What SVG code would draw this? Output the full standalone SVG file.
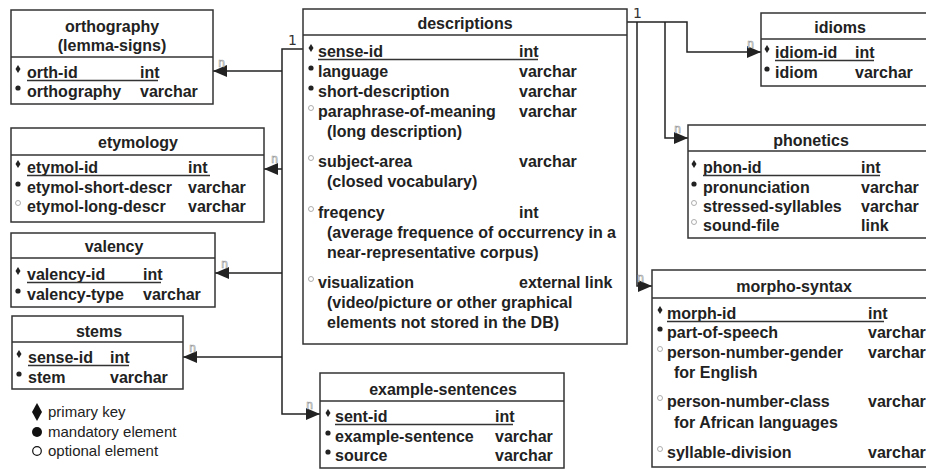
<svg xmlns="http://www.w3.org/2000/svg" width="926" height="469" viewBox="0 0 926 469">
<defs>
<style>
.box{fill:#fff;stroke:#333;stroke-width:1.5}
.div{stroke:#333;stroke-width:1.5}
.t{font-family:"Liberation Sans",Arial,sans-serif;font-size:16px;font-weight:bold;fill:#222}
.ttl{text-anchor:middle}
.ul{stroke:#333;stroke-width:1.5}
.conn{fill:none;stroke:#222;stroke-width:1.5}
.n{font-family:"DejaVu Sans Mono",monospace;font-size:12px;fill:#fff;stroke:#999;stroke-width:0.6}
.one{font-family:"DejaVu Sans",sans-serif;font-size:14px;fill:#333}
.lg{font-family:"Liberation Sans",Arial,sans-serif;font-size:15px;fill:#222}
.pk{fill:#222}
.md{fill:#222}
.op{fill:#fff;stroke:#999;stroke-width:0.8}
</style>
<path id="pk" class="pk" d="M0,-4 L2.5,0 L0,4 L-2.5,0Z"/>
<circle id="md" class="md" r="2.6"/>
<circle id="op" class="op" r="2.5"/>
<marker id="arr" markerUnits="userSpaceOnUse" markerWidth="14" markerHeight="12" refX="14" refY="6" orient="auto">
<path d="M0,0 L14,6 L0,12Z" fill="#222"/>
</marker>
</defs>

<g id="connectors">
<path class="conn" d="M303,49 H282 V414 H320" marker-end="url(#arr)"/>
<path class="conn" d="M282,71 H213" marker-end="url(#arr)"/>
<path class="conn" d="M282,169 H264" marker-end="url(#arr)"/>
<path class="conn" d="M282,273 H215" marker-end="url(#arr)"/>
<path class="conn" d="M282,357 H183" marker-end="url(#arr)"/>
<path class="conn" d="M627,22 H687 V52 H761" marker-end="url(#arr)"/>
<path class="conn" d="M637,22 V286 H652" marker-end="url(#arr)"/>
<path class="conn" d="M665,22 V138 H688" marker-end="url(#arr)"/>
<text class="one" x="288" y="45">1</text>
<text class="one" x="633" y="18">1</text>
<text class="n" x="218" y="67">n</text>
<text class="n" x="271" y="163">n</text>
<text class="n" x="221" y="268">n</text>
<text class="n" x="189" y="352">n</text>
<text class="n" x="306" y="409">n</text>
<text class="n" x="747" y="48">n</text>
<text class="n" x="674" y="133">n</text>
<text class="n" x="637" y="282">n</text>
</g>

<g id="orthography">
<rect class="box" x="11" y="10" width="202" height="94"/>
<line class="div" x1="11" y1="57" x2="213" y2="57"/>
<text class="t ttl" x="112" y="32">orthography</text>
<text class="t ttl" x="112" y="51">(lemma-signs)</text>
<use href="#pk" x="18" y="69"/>
<text class="t" x="27" y="78">orth-id</text><text class="t" x="140" y="78">int</text>
<line class="ul" x1="27" y1="80.5" x2="158" y2="80.5"/>
<use href="#md" x="18" y="88"/>
<text class="t" x="27" y="97">orthography</text><text class="t" x="140" y="97">varchar</text>
</g>

<g id="etymology">
<rect class="box" x="11" y="128" width="253" height="94"/>
<line class="div" x1="11" y1="155" x2="264" y2="155"/>
<text class="t ttl" x="138" y="148">etymology</text>
<use href="#pk" x="18" y="164"/>
<text class="t" x="27" y="173">etymol-id</text><text class="t" x="188" y="173">int</text>
<line class="ul" x1="27" y1="175.5" x2="210" y2="175.5"/>
<use href="#md" x="18" y="184"/>
<text class="t" x="27" y="193">etymol-short-descr</text><text class="t" x="188" y="193">varchar</text>
<use href="#op" x="18" y="203"/>
<text class="t" x="27" y="212">etymol-long-descr</text><text class="t" x="188" y="212">varchar</text>
</g>

<g id="valency">
<rect class="box" x="11" y="233" width="204" height="74"/>
<line class="div" x1="11" y1="258" x2="215" y2="258"/>
<text class="t ttl" x="114" y="252">valency</text>
<use href="#pk" x="18" y="271"/>
<text class="t" x="27" y="280">valency-id</text><text class="t" x="143" y="280">int</text>
<line class="ul" x1="27" y1="282.5" x2="161" y2="282.5"/>
<use href="#md" x="18" y="291"/>
<text class="t" x="27" y="300">valency-type</text><text class="t" x="143" y="300">varchar</text>
</g>

<g id="stems">
<rect class="box" x="12" y="316" width="171" height="73"/>
<line class="div" x1="12" y1="342" x2="183" y2="342"/>
<text class="t ttl" x="99" y="337">stems</text>
<use href="#pk" x="19" y="354"/>
<text class="t" x="28" y="363">sense-id</text><text class="t" x="110" y="363">int</text>
<line class="ul" x1="28" y1="365.5" x2="129" y2="365.5"/>
<use href="#md" x="19" y="374"/>
<text class="t" x="28" y="383">stem</text><text class="t" x="110" y="383">varchar</text>
</g>

<g id="legend">
<path d="M37,403 L42,412 L37,421 L32,412Z" fill="#111"/>
<text class="lg" x="48" y="417">primary key</text>
<circle cx="37" cy="432" r="5" fill="#111"/>
<text class="lg" x="48" y="437">mandatory element</text>
<circle cx="37" cy="451" r="4.3" fill="#fff" stroke="#111" stroke-width="1.2"/>
<text class="lg" x="48" y="456">optional element</text>
</g>

<g id="descriptions">
<rect class="box" x="303" y="9" width="324" height="335"/>
<line class="div" x1="303" y1="35" x2="627" y2="35"/>
<text class="t ttl" x="465" y="29">descriptions</text>
<use href="#pk" x="311" y="48"/>
<text class="t" x="318" y="57">sense-id</text><text class="t" x="519" y="57">int</text>
<line class="ul" x1="318" y1="59.5" x2="538" y2="59.5"/>
<use href="#md" x="311" y="68"/>
<text class="t" x="318" y="77">language</text><text class="t" x="519" y="77">varchar</text>
<use href="#md" x="311" y="88"/>
<text class="t" x="318" y="97">short-description</text><text class="t" x="519" y="97">varchar</text>
<use href="#op" x="311" y="108"/>
<text class="t" x="318" y="117">paraphrase-of-meaning</text><text class="t" x="519" y="117">varchar</text>
<text class="t" x="327" y="137">(long description)</text>
<use href="#op" x="311" y="158"/>
<text class="t" x="318" y="167">subject-area</text><text class="t" x="519" y="167">varchar</text>
<text class="t" x="327" y="187">(closed vocabulary)</text>
<use href="#op" x="311" y="209"/>
<text class="t" x="318" y="218">freqency</text><text class="t" x="519" y="218">int</text>
<text class="t" x="327" y="238">(average frequence of occurrency in a</text>
<text class="t" x="327" y="258">near-representative corpus)</text>
<use href="#op" x="311" y="279"/>
<text class="t" x="318" y="288">visualization</text><text class="t" x="519" y="288">external link</text>
<text class="t" x="327" y="308">(video/picture or other graphical</text>
<text class="t" x="327" y="328">elements not stored in the DB)</text>
</g>

<g id="example-sentences">
<rect class="box" x="320" y="373" width="244" height="95"/>
<line class="div" x1="320" y1="401" x2="564" y2="401"/>
<text class="t ttl" x="443" y="395">example-sentences</text>
<use href="#pk" x="328" y="413"/>
<text class="t" x="335" y="422">sent-id</text><text class="t" x="495" y="422">int</text>
<line class="ul" x1="335" y1="424.5" x2="513" y2="424.5"/>
<use href="#md" x="328" y="433"/>
<text class="t" x="335" y="442">example-sentence</text><text class="t" x="495" y="442">varchar</text>
<use href="#md" x="328" y="452"/>
<text class="t" x="335" y="461">source</text><text class="t" x="495" y="461">varchar</text>
</g>

<g id="idioms">
<rect class="box" x="761" y="13" width="180" height="73"/>
<line class="div" x1="761" y1="39" x2="941" y2="39"/>
<text class="t ttl" x="840" y="33">idioms</text>
<use href="#pk" x="767" y="49"/>
<text class="t" x="775" y="58">idiom-id</text><text class="t" x="855" y="58">int</text>
<line class="ul" x1="775" y1="60.5" x2="874" y2="60.5"/>
<use href="#md" x="767" y="69"/>
<text class="t" x="775" y="78">idiom</text><text class="t" x="855" y="78">varchar</text>
</g>

<g id="phonetics">
<rect class="box" x="688" y="125" width="260" height="113"/>
<line class="div" x1="688" y1="151" x2="948" y2="151"/>
<text class="t ttl" x="811" y="146">phonetics</text>
<use href="#pk" x="694" y="164"/>
<text class="t" x="703" y="173">phon-id</text><text class="t" x="861" y="173">int</text>
<line class="ul" x1="703" y1="175.5" x2="880" y2="175.5"/>
<use href="#md" x="694" y="184"/>
<text class="t" x="703" y="193">pronunciation</text><text class="t" x="861" y="193">varchar</text>
<use href="#op" x="694" y="203"/>
<text class="t" x="703" y="212">stressed-syllables</text><text class="t" x="861" y="212">varchar</text>
<use href="#op" x="694" y="222"/>
<text class="t" x="703" y="231">sound-file</text><text class="t" x="861" y="231">link</text>
</g>

<g id="morpho-syntax">
<rect class="box" x="652" y="270" width="290" height="197"/>
<line class="div" x1="652" y1="298" x2="942" y2="298"/>
<text class="t ttl" x="794" y="292">morpho-syntax</text>
<use href="#pk" x="660" y="310"/>
<text class="t" x="667" y="319">morph-id</text><text class="t" x="868" y="319">int</text>
<line class="ul" x1="667" y1="321.5" x2="884" y2="321.5"/>
<use href="#md" x="660" y="329"/>
<text class="t" x="667" y="338">part-of-speech</text><text class="t" x="868" y="338">varchar</text>
<use href="#op" x="660" y="349"/>
<text class="t" x="667" y="358">person-number-gender</text><text class="t" x="868" y="358">varchar</text>
<text class="t" x="674" y="378">for English</text>
<use href="#op" x="660" y="398"/>
<text class="t" x="667" y="407">person-number-class</text><text class="t" x="868" y="407">varchar</text>
<text class="t" x="674" y="428">for African languages</text>
<use href="#op" x="660" y="449"/>
<text class="t" x="667" y="458">syllable-division</text><text class="t" x="868" y="458">varchar</text>
</g>
</svg>
